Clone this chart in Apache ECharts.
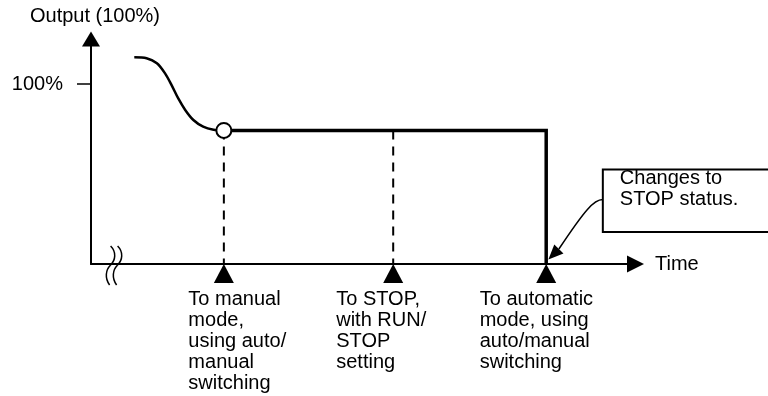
<!DOCTYPE html>
<html>
<head>
<meta charset="utf-8">
<style>
  html, body { margin: 0; padding: 0; background: #fff; }
  #chart { width: 768px; height: 396px; }
</style>
<script src="https://cdn.jsdelivr.net/npm/echarts@6/dist/echarts.min.js"></script>
</head>
<body>
<div id="chart"></div>
<script>
// ---- data ----
const curveTime   = [7.95, 10.2, 12.1, 13.6, 14.8, 16.0, 17.3, 18.8, 20.6, 22.5, 24.4];
const curveOutput = [114.8, 114.3, 111.5, 105.9, 99.4, 92.1, 85.6, 80.0, 76.3, 74.6, 74.2];
const holdLevel = 74.2;
const eventTimes = [24.4, 55.5, 83.6];
const eventLabels = [
  'To manual\nmode,\nusing auto/\nmanual\nswitching',
  'To STOP,\nwith RUN/\nSTOP\nsetting',
  'To automatic\nmode, using\nauto/manual\nswitching'
];
const dashedTimes = [24.4, 55.5];
const yTickValues = [100];
const axisNames = { x: 'Time', y: 'Output (100%)' };
const calloutText = 'Changes to\nSTOP status.';

// ---- layout / style ----
const FONT = '"Liberation Sans", Arial, Helvetica, sans-serif';
const labelOffsetsX = [-35.5, -57, -66.5];
const breakAt = 3.6;
// callout anchor in data units: [boxLeft, boxTop, boxBottom, arrowStartY, tipX, tipY]
const calloutAnchor = [94.0, 52.5, 17.8, 35.8, 84.0, 2.5];

const chart = echarts.init(document.getElementById('chart'), null, { renderer: 'canvas' });

const series = [];

// smooth decay curve
series.push({
  type: 'line', silent: true, smooth: 0.3, showSymbol: false, symbol: 'none',
  data: curveTime.map((t, i) => [t, curveOutput[i]]),
  lineStyle: { color: '#000', width: 2.5, opacity: 1 }, z: 3
});

// dashed verticals
dashedTimes.forEach(t => {
  series.push({
    type: 'line', silent: true, showSymbol: false, symbol: 'none',
    data: [[t, holdLevel], [t, 0]],
    lineStyle: { color: '#000', width: 2, type: [9, 7], opacity: 1 }, z: 2
  });
});

// hold level then drop to zero at auto switch
series.push({
  type: 'line', silent: true, showSymbol: false, symbol: 'none',
  data: [[eventTimes[0], holdLevel], [eventTimes[2], holdLevel], [eventTimes[2], 0]],
  lineStyle: { color: '#000', width: 3.5, join: 'miter', cap: 'butt', opacity: 1 }, z: 3
});

// event triangles with labels
series.push({
  type: 'scatter', silent: true,
  symbol: 'triangle', symbolSize: [20, 19], symbolOffset: [0, 9.5],
  itemStyle: { color: '#000', opacity: 1 },
  data: eventTimes.map((t, i) => ({
    value: [t, 0],
    label: {
      show: true, formatter: eventLabels[i], position: 'bottom', distance: 6.3,
      align: 'left', offset: [labelOffsetsX[i], 0],
      color: '#000', opacity: 1, fontSize: 20, lineHeight: 21, fontFamily: FONT
    }
  })),
  z: 4
});

// switch-point circle
series.push({
  type: 'scatter', silent: true, symbol: 'circle', symbolSize: 15,
  data: [[eventTimes[0], holdLevel]],
  itemStyle: { color: '#fff', borderColor: '#000', borderWidth: 2, opacity: 1 }, z: 6
});

// axis break mark
series.push({
  type: 'custom', silent: true, clip: false, z: 7,
  data: [[breakAt, 0]],
  renderItem: function (params, api) {
    const p = api.coord([api.value(0), api.value(1)]);
    function upper(dx) {
      const x = p[0] + dx, y = p[1];
      return {
        type: 'bezierCurve',
        shape: { x1: x, y1: y - 18, cpx1: x + 6, cpy1: y - 12, cpx2: x + 5, cpy2: y - 4, x2: x, y2: y + 1 },
        style: { fill: 'none', stroke: '#000', lineWidth: 1.5 }
      };
    }
    function lower(dx) {
      const x = p[0] + dx, y = p[1];
      return {
        type: 'bezierCurve',
        shape: { x1: x, y1: y + 1, cpx1: x - 5, cpy1: y + 6, cpx2: x - 6, cpy2: y + 14, x2: x - 1, y2: y + 21 },
        style: { fill: 'none', stroke: '#000', lineWidth: 1.5 }
      };
    }
    return { type: 'group', children: [upper(0), lower(0), upper(7), lower(7)] };
  }
});

// callout box with curved arrow
series.push({
  type: 'custom', silent: true, clip: false, z: 8,
  data: [calloutAnchor],
  renderItem: function (params, api) {
    const tl = api.coord([api.value(0), api.value(1)]);
    const bl = api.coord([api.value(0), api.value(2)]);
    const s = api.coord([api.value(0), api.value(3)]);
    const tip = api.coord([api.value(4), api.value(5)]);
    const end = [tip[0] + 10.5, tip[1] - 10.5];
    const dir = [tip[0] - end[0], tip[1] - end[1]];
    const len = Math.hypot(dir[0], dir[1]);
    const u = [dir[0] / len, dir[1] / len];
    const perp = [-u[1], u[0]];
    const hw = 6.5;
    return {
      type: 'group',
      children: [
        {
          type: 'rect',
          shape: { x: tl[0], y: tl[1], width: 220, height: bl[1] - tl[1] },
          style: { fill: '#fff', stroke: '#000', lineWidth: 2 }
        },
        {
          type: 'text',
          style: {
            text: calloutText, x: tl[0] + 17, y: tl[1] - 2,
            fill: '#000', fontSize: 20, lineHeight: 21.5, fontFamily: FONT,
            align: 'left', verticalAlign: 'top'
          },
          z2: 10
        },
        {
          type: 'bezierCurve',
          shape: {
            x1: s[0], y1: s[1],
            cpx1: s[0] - 9, cpy1: s[1],
            cpx2: s[0] - 18, cpy2: s[1] + 10.5,
            x2: end[0], y2: end[1]
          },
          style: { fill: 'none', stroke: '#000', lineWidth: 1.5 }
        },
        {
          type: 'polygon',
          shape: { points: [
            [tip[0], tip[1]],
            [end[0] + perp[0] * hw, end[1] + perp[1] * hw],
            [end[0] - perp[0] * hw, end[1] - perp[1] * hw]
          ] },
          style: { fill: '#000', stroke: 'none' }
        }
      ]
    };
  }
});

const option = {
  backgroundColor: '#fff',
  animation: false,
  textStyle: { fontFamily: FONT, color: '#000' },
  grid: { left: 91, right: 132.5, top: 39, bottom: 132, containLabel: false, outerBoundsMode: 'none' },
  xAxis: {
    type: 'value', min: 0, max: 100,
    name: axisNames.x, nameLocation: 'end', nameGap: 19.5,
    nameTextStyle: { color: '#000', fontSize: 20, fontFamily: FONT },
    axisLine: { show: true, onZero: false, symbol: ['none', 'triangle'], symbolSize: [17, 17],
      lineStyle: { color: '#000', width: 2 } },
    axisTick: { show: false }, axisLabel: { show: false }, splitLine: { show: false }
  },
  yAxis: {
    type: 'value', min: 0, max: 125,
    name: axisNames.y, nameLocation: 'end', nameGap: 12.6,
    nameTextStyle: { color: '#000', fontSize: 20, lineHeight: 20, fontFamily: FONT, padding: [0, 0, 0, 8] },
    axisLine: { show: true, onZero: false, symbol: ['none', 'triangle'], symbolSize: [18, 15],
      lineStyle: { color: '#000', width: 2 } },
    axisTick: { show: true, customValues: yTickValues, length: 14, lineStyle: { color: '#000', width: 1.5 } },
    axisLabel: { show: true, customValues: yTickValues, formatter: '{value}%', margin: 28,
      color: '#000', fontSize: 20, fontFamily: FONT },
    splitLine: { show: false }
  },
  series: series
};

chart.setOption(option);
</script>
</body>
</html>
